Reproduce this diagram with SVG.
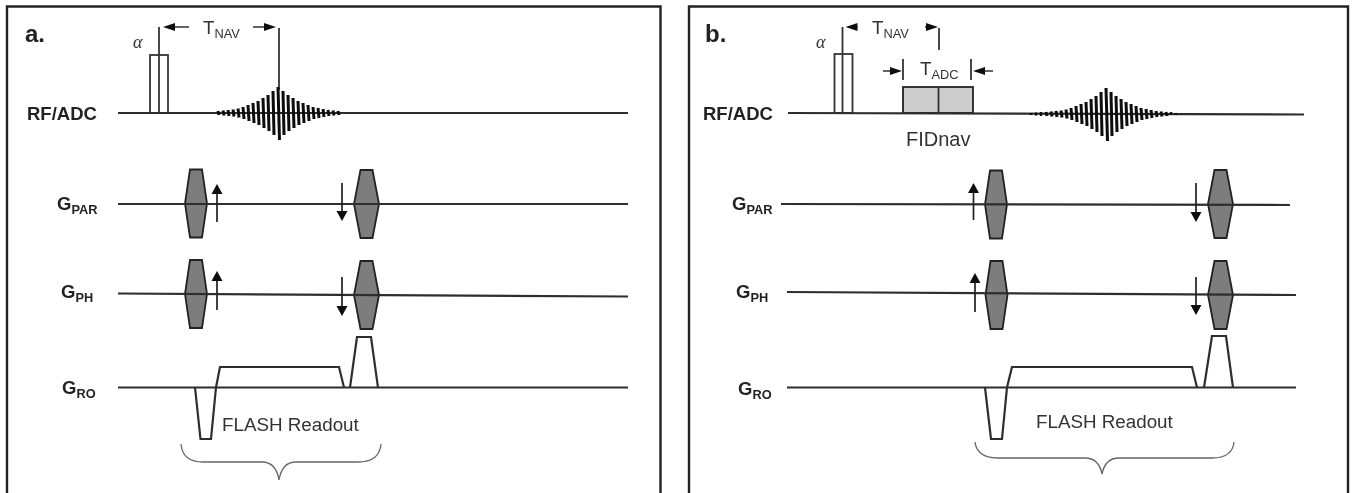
<svg xmlns="http://www.w3.org/2000/svg" xmlns:xlink="http://www.w3.org/1999/xlink" width="1355" height="493" viewBox="0 0 1355 493">
<style>
.ln{fill:none;stroke:#2e2e2e;stroke-width:2.200}
.thin{fill:none;stroke:#333;stroke-width:1.800}
.brace{fill:none;stroke:#666;stroke-width:1.300}
.frame{fill:none;stroke:#222;stroke-width:2.400}
.hex{fill:#7d7d7d;stroke:#222;stroke-width:1.800}
.box{fill:#cdcdcd;stroke:#222;stroke-width:1.800}
.echo{fill:none;stroke:#0c0c0c;stroke-width:3}
.arr{fill:none;stroke:#222;stroke-width:1.700;marker-end:url(#head)}
.dim{fill:none;stroke:#333;stroke-width:1.500;marker-end:url(#dimhead)}
text{font-family:"Liberation Sans",Arial,sans-serif;fill:#333}
.b{font-weight:bold;fill:#222}
.lab{font-size:18.500px}
.sub{font-size:12.800px}
.big{font-size:24px;font-weight:bold;fill:#222}
.t{font-size:18.800px}
.tsub{font-size:12.800px}
.al{font-family:"Liberation Serif","Times New Roman",serif;font-style:italic;font-size:18px}
</style>
<defs>
<marker id="head" markerUnits="userSpaceOnUse" markerWidth="12" markerHeight="12" refX="0" refY="6" orient="auto"><path d="M0,0.500 L10,6 L0,11.500 Z" fill="#111"/></marker>
<marker id="dimhead" markerUnits="userSpaceOnUse" markerWidth="13" markerHeight="10" refX="0" refY="5" orient="auto"><path d="M0,1 L12,5 L0,9 Z" fill="#111"/></marker>
<filter id="soft" x="0" y="0" width="100%" height="100%" filterUnits="userSpaceOnUse" primitiveUnits="userSpaceOnUse"><feGaussianBlur stdDeviation="0.450"/></filter>
<polygon id="hexA" class="hex" points="-6,-34 6,-34 11,0 6,34 -6,34 -11,0"/>
<polygon id="hexB" class="hex" points="-6,-34 6,-34 12.500,0 6,34 -6,34 -12.500,0"/>
<path id="echoBars" class="echo" d="M-60,-2 l1,4 M-55,-2.500 l1,5 M-50,-3 l1,6 M-45,-3.500 l1,7 M-40,-4.500 l1,9 M-35,-6 l1,12 M-30,-8 l1,16 M-25,-10 l1,20 M-20,-12 l1,24 M-15,-15 l1,30 M-10,-18 l1,36 M-5,-22 l1,44 M0,-26 l1.500,53 M5,-22 l1,44 M10,-18 l1,36 M15,-15 l1,30 M20,-12 l1,24 M25,-10 l1,20 M30,-8 l1,16 M35,-6 l1,12 M40,-5 l1,10 M45,-4 l1,8 M50,-3 l1,6 M55,-2.500 l1,5 M60,-2 l1,4"/>
</defs>
<rect width="1355" height="493" fill="#fff"/>
<g filter="url(#soft)">
<g id="panel-a">
<path id="frame-a" class="frame" d="M7,493 V6.500 H660.500 V493"/>
<text class="big" x="25" y="42">a.</text>
<g id="a-rf-label"><text class="b lab" x="27" y="120">RF/ADC</text></g>
<g id="a-gpar-label"><text class="b lab" x="57" y="210">G<tspan class="sub" dy="4">PAR</tspan></text></g>
<g id="a-gph-label"><text class="b lab" x="61" y="298">G<tspan class="sub" dy="3.500">PH</tspan></text></g>
<g id="a-gro-label"><text class="b lab" x="62" y="394">G<tspan class="sub" dy="3.500">RO</tspan></text></g>
<g id="a-alpha-pulse">
<text class="al" x="133" y="48">α</text>
<rect x="150" y="55" width="18" height="58" fill="none" stroke="#333" stroke-width="1.800"/>
</g>
<g id="a-tnav"><text class="t" x="203" y="34">T<tspan class="tsub" dy="4">NAV</tspan></text></g>
<g id="a-gpar-lobes"><use xlink:href="#hexA" href="#hexA" x="196" y="203.500"/><use xlink:href="#hexB" href="#hexB" x="366.500" y="204"/></g>
<g id="a-gph-lobes"><use xlink:href="#hexA" href="#hexA" x="196" y="294"/><use xlink:href="#hexB" href="#hexB" x="366.500" y="295"/></g>
<g id="a-connectors">
<path class="ln" d="M118,113 H628"/>
<path class="ln" d="M118,204 H628"/>
<path class="ln" d="M118,293.500 L628,296.500"/>
<path class="ln" d="M118,387.500 H628"/>
<path class="thin" d="M159,27 V113 M279,28 V90"/>
<path class="dim" d="M189,27 H175"/>
<path class="dim" d="M253,27 H264"/>
<path class="arr" d="M217,222 V194"/>
<path class="arr" d="M342,183 V211"/>
<path class="arr" d="M217,310 V281"/>
<path class="arr" d="M342,277 V306"/>
<path class="ln" d="M195,387.500 L200.500,439 H211 L216,387.500 L220,367 H339 L344,387.500"/>
<path class="ln" d="M350,387.500 L357,337 H371 L378,387.500"/>
<path class="brace" d="M181,444 C182,456 190,462 203,462 H262 C272,462 277,468 279,480 C281,468 286,462 296,462 H358 C372,462 380,456 381,444"/>
</g>
<g id="a-echo"><use xlink:href="#echoBars" href="#echoBars" x="278" y="113"/></g>
<g id="a-flash"><text class="t" x="222" y="431">FLASH Readout</text></g>
</g>
<g id="panel-b">
<path id="frame-b" class="frame" d="M689,493 V6.500 H1348 V493"/>
<text class="big" x="705" y="42">b.</text>
<g id="b-rf-label"><text class="b lab" x="703" y="120">RF/ADC</text></g>
<g id="b-gpar-label"><text class="b lab" x="732" y="210">G<tspan class="sub" dy="4">PAR</tspan></text></g>
<g id="b-gph-label"><text class="b lab" x="736" y="298">G<tspan class="sub" dy="3.500">PH</tspan></text></g>
<g id="b-gro-label"><text class="b lab" x="738" y="395">G<tspan class="sub" dy="3.500">RO</tspan></text></g>
<g id="b-alpha-pulse">
<text class="al" x="816" y="48">α</text>
<rect x="834.500" y="54" width="18" height="59" fill="none" stroke="#333" stroke-width="1.800"/>
</g>
<g id="b-tnav"><text class="t" x="872" y="34">T<tspan class="tsub" dy="4">NAV</tspan></text></g>
<g id="b-tadc"><text class="t" x="920" y="75">T<tspan class="tsub" dy="4">ADC</tspan></text></g>
<g id="b-adc-box">
<rect class="box" x="903" y="87" width="70" height="26"/>
<path class="thin" d="M938.500,87 V113"/>
</g>
<g id="b-fidnav"><text class="t" style="font-size:20px" x="906" y="146">FIDnav</text></g>
<g id="b-gpar-lobes"><use xlink:href="#hexA" href="#hexA" x="996" y="204.500"/><use xlink:href="#hexB" href="#hexB" x="1220.500" y="204"/></g>
<g id="b-gph-lobes"><use xlink:href="#hexA" href="#hexA" x="996.500" y="295"/><use xlink:href="#hexB" href="#hexB" x="1220.500" y="295"/></g>
<g id="b-connectors">
<path class="ln" d="M788,113 L1304,114.500"/>
<path class="ln" d="M781,204 L1290,205"/>
<path class="ln" d="M787,292 L1296,295"/>
<path class="ln" d="M787,387.500 H1296"/>
<path class="thin" d="M842.500,27 V113 M939,28 V50"/>
<path class="dim" d="M858,27 H857.500"/>
<path class="dim" d="M925,27 H926"/>
<path class="thin" d="M903,59 V80 M971,59 V80"/>
<path class="dim" d="M883,71 H890"/>
<path class="dim" d="M993,71 H985"/>
<path class="arr" d="M973.500,220 V193"/>
<path class="arr" d="M1196,183 V212"/>
<path class="arr" d="M975,312 V283"/>
<path class="arr" d="M1196,277 V305"/>
<path class="ln" d="M985,387.500 L991,439 H1002 L1007,387.500 L1012,367 H1192 L1197,387.500"/>
<path class="ln" d="M1204,387.500 L1212,336 H1226 L1233,387.500"/>
<path class="brace" d="M975,442 C976,452 984,458 997,458 H1085 C1095,458 1100,464 1102,474 C1104,464 1109,458 1119,458 H1212 C1226,458 1233,452 1234,442"/>
</g>
<g id="b-echo"><use xlink:href="#echoBars" href="#echoBars" x="1106" y="114"/><path class="echo" style="stroke-width:2.400" d="M1031,113 v2 M1036,112.500 v3 M1041,112 v4 M1171,112 v3 M1176,113 v2"/></g>
<g id="b-flash"><text class="t" x="1036" y="428">FLASH Readout</text></g>
</g>
</g>
</svg>
